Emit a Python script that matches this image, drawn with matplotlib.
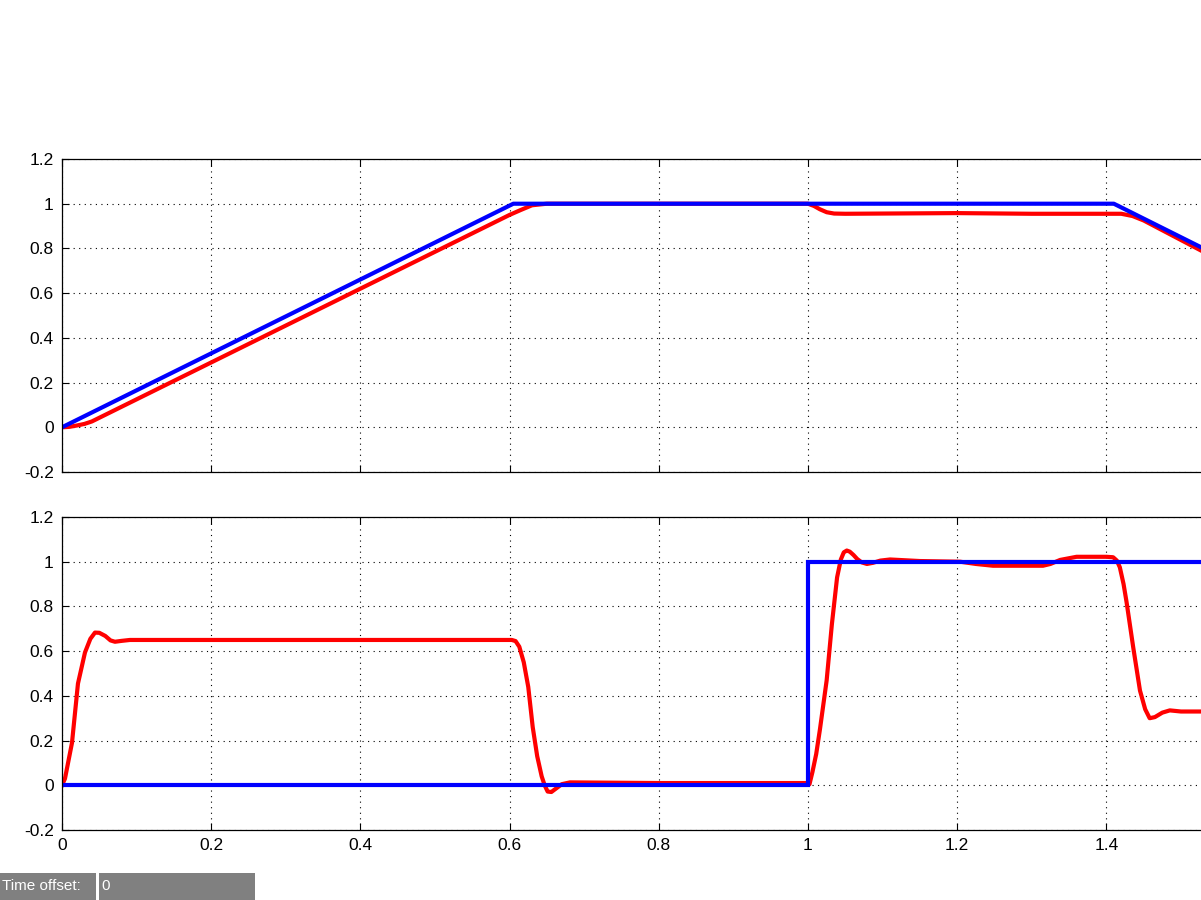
import matplotlib
matplotlib.use("Agg")
import matplotlib.pyplot as plt
from matplotlib.patches import Rectangle

# ---- data ----
top_ref_t = [0.0, 0.605, 1.41, 1.53]
top_ref_y = [0.0, 1.0, 1.0, 0.80]

top_out_t = [0.0, 0.01, 0.02, 0.03, 0.04, 0.10, 0.30, 0.50, 0.58, 0.60, 0.615,
             0.63, 0.65, 1.0, 1.008, 1.016, 1.025, 1.035, 1.05, 1.20, 1.30, 1.42,
             1.435, 1.45, 1.53]
top_out_y = [0.0, 0.002, 0.008, 0.015, 0.026, 0.125, 0.455, 0.785, 0.917, 0.95, 0.972,
             0.993, 1.0, 1.0, 0.99, 0.975, 0.962, 0.956, 0.955, 0.958, 0.955, 0.955,
             0.945, 0.925, 0.785]

bot_ref_t = [0.0, 1.0, 1.0, 1.53]
bot_ref_y = [0.0, 0.0, 1.0, 1.0]

bot_out_t = [0.0, 0.004, 0.0134, 0.0214, 0.0308, 0.038, 0.0442, 0.050, 0.058, 0.065,
             0.071, 0.08, 0.091, 0.30,
             0.603, 0.608, 0.613, 0.619, 0.625, 0.631, 0.637, 0.643, 0.647, 0.651,
             0.656, 0.662, 0.670, 0.681, 0.80, 0.998,
             1.002, 1.006, 1.011, 1.016, 1.025, 1.032, 1.039, 1.044, 1.048, 1.052,
             1.056, 1.061, 1.066, 1.072, 1.079, 1.087, 1.097, 1.11, 1.15, 1.204,
             1.225, 1.248, 1.315, 1.325, 1.338, 1.36, 1.40, 1.409, 1.414, 1.418,
             1.423, 1.427, 1.436, 1.445, 1.452, 1.458, 1.465, 1.475, 1.485, 1.50, 1.53]
bot_out_y = [0.0, 0.03, 0.19, 0.455, 0.594, 0.655, 0.683, 0.682, 0.668, 0.648,
             0.642, 0.646, 0.65, 0.65,
             0.65, 0.645, 0.62, 0.55, 0.44, 0.26, 0.13, 0.04, 0.0, -0.028,
             -0.03, -0.015, 0.005, 0.013, 0.01, 0.01,
             0.005, 0.06, 0.14, 0.25, 0.469, 0.72, 0.93, 1.01, 1.042, 1.05,
             1.045, 1.03, 1.012, 0.997, 0.99, 0.995, 1.005, 1.01, 1.003, 1.0,
             0.99, 0.982, 0.982, 0.99, 1.008, 1.022, 1.022, 1.02, 1.005, 0.975,
             0.9, 0.82, 0.616, 0.424, 0.34, 0.30, 0.305, 0.325, 0.335, 0.33, 0.33]

xticks = [0, 0.2, 0.4, 0.6, 0.8, 1.0, 1.2, 1.4]
xticklabels = ["0", "0.2", "0.4", "0.6", "0.8", "1", "1.2", "1.4"]
yticks = [-0.2, 0, 0.2, 0.4, 0.6, 0.8, 1.0, 1.2]
yticklabels = ["-0.2", "0", "0.2", "0.4", "0.6", "0.8", "1", "1.2"]

plt.rcParams['font.family'] = ['Liberation Sans', 'DejaVu Sans']
plt.rcParams['axes.unicode_minus'] = False

W, H = 1201, 900
fig = plt.figure(figsize=(W / 100, H / 100), dpi=100)
fig.patch.set_facecolor('white')

left_px = 62
px_per_unit = 746.0
ax_w_px = 1180
xmax = ax_w_px / px_per_unit


def make_ax(top_px, bot_px):
    ax = fig.add_axes([left_px / W, (H - bot_px) / H, ax_w_px / W, (bot_px - top_px) / H])
    ax.set_xlim(0, xmax)
    ax.set_ylim(-0.2, 1.2)
    ax.set_xticks(xticks)
    ax.set_yticks(yticks)
    ax.set_yticklabels(yticklabels)
    ax.tick_params(direction='in', length=5, width=0.8, top=True, right=True,
                   labelsize=12.5, colors='black', pad=6)
    ax.grid(True, color='black', linestyle=(0, (1, 4)), linewidth=0.8)
    for s in ax.spines.values():
        s.set_linewidth(0.9)
    return ax


ax1 = make_ax(159, 472)
ax1.set_xticklabels([])
ax1.plot(top_out_t, top_out_y, color='#ff0000', linewidth=3.0, solid_joinstyle='round')
ax1.plot(top_ref_t, top_ref_y, color='#0000ff', linewidth=3.0, solid_joinstyle='round')

ax2 = make_ax(517, 830)
ax2.set_xticklabels(xticklabels)
ax2.plot(bot_out_t, bot_out_y, color='#ff0000', linewidth=3.0, solid_joinstyle='round')
ax2.plot(bot_ref_t, bot_ref_y, color='#0000ff', linewidth=3.0, solid_joinstyle='miter')

# "Time offset" panel
fig.patches.append(Rectangle((0, 0), 96 / W, 27 / H, transform=fig.transFigure,
                             facecolor='#808080', edgecolor='none'))
fig.patches.append(Rectangle((99 / W, 0), 156 / W, 27 / H, transform=fig.transFigure,
                             facecolor='#808080', edgecolor='none'))
fig.text(2 / W, 13.5 / H, "Time offset:", color='white', fontsize=11, va='center', ha='left')
fig.text(101 / W, 13.5 / H, "0", color='white', fontsize=11, va='center', ha='left')

fig.savefig("out.png", dpi=100, facecolor='white')
